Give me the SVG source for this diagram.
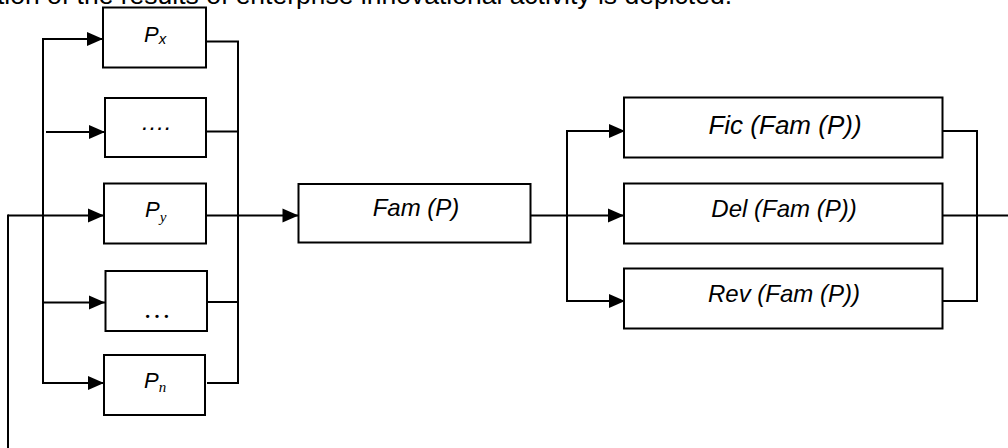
<svg xmlns="http://www.w3.org/2000/svg" width="1008" height="448" viewBox="0 0 1008 448">
  <defs>
    <marker id="arr" markerUnits="userSpaceOnUse" markerWidth="17" markerHeight="15" refX="16" refY="7.5" orient="auto" overflow="visible">
      <path d="M0,0.5 L16,7.5 L0,14.5 z" fill="#000"/>
    </marker>
    <style>
      .box { fill: #fff; stroke: #000; stroke-width: 2; }
      .ln { fill: none; stroke: #000; stroke-width: 2; }
      .lbl { font-family: "Liberation Sans", Arial, sans-serif; font-style: italic; font-size: 24px; fill: #000; text-anchor: middle; }
      .pv { font-family: "Liberation Sans", Arial, sans-serif; font-style: italic; font-size: 22px; fill: #000; }
      .subs { font-family: "Liberation Sans", Arial, sans-serif; font-style: italic; font-size: 15px; }
      .subt { font-family: "Liberation Serif", "Times New Roman", serif; font-style: italic; font-size: 15px; }
      .top { font-family: "Liberation Sans", Arial, sans-serif; font-size: 26.5px; fill: #000; }
    </style>
  </defs>

  <text class="top" x="-3" y="4">tion of the results of enterprise innovational activity is depicted.</text>

  <g id="connectors">
    <!-- left input bus -->
    <line class="ln" x1="43" y1="38" x2="43" y2="384"/>
    <line class="ln" x1="42" y1="39" x2="103" y2="39" marker-end="url(#arr)"/>
    <line class="ln" x1="46" y1="132" x2="105" y2="132" marker-end="url(#arr)"/>
    <line class="ln" x1="8" y1="215.5" x2="104" y2="215.5" marker-end="url(#arr)"/>
    <line class="ln" x1="8" y1="214.5" x2="8" y2="448"/>
    <line class="ln" x1="44" y1="302.5" x2="105" y2="302.5" marker-end="url(#arr)"/>
    <line class="ln" x1="42" y1="383" x2="104" y2="383" marker-end="url(#arr)"/>
    <!-- right collecting bus -->
    <polyline class="ln" points="206,41.5 238,41.5 238,383 207,383"/>
    <line class="ln" x1="206" y1="131.5" x2="238" y2="131.5"/>
    <line class="ln" x1="207" y1="302" x2="238" y2="302"/>
    <line class="ln" x1="206" y1="215.5" x2="298.5" y2="215.5" marker-end="url(#arr)"/>
    <!-- Fam output -->
    <line class="ln" x1="531" y1="215.5" x2="624" y2="215.5" marker-end="url(#arr)"/>
    <line class="ln" x1="567" y1="130" x2="567" y2="302"/>
    <line class="ln" x1="566" y1="131" x2="625" y2="131" marker-end="url(#arr)"/>
    <line class="ln" x1="566" y1="301" x2="625" y2="301" marker-end="url(#arr)"/>
    <!-- right output bus -->
    <polyline class="ln" points="943,131 977,131 977,301 943,301"/>
    <line class="ln" x1="943" y1="215.5" x2="1008" y2="215.5"/>
  </g>

  <g id="px">
    <rect class="box" x="103" y="7.5" width="103" height="60"/>
    <text class="pv" x="144" y="42">P<tspan class="subs" dy="1.5">x</tspan></text>
  </g>
  <g id="dots4">
    <rect class="box" x="105" y="98" width="101" height="59"/>
    <text class="lbl" x="156" y="130">….</text>
  </g>
  <g id="py">
    <rect class="box" x="104" y="183.5" width="102" height="60"/>
    <text class="pv" x="145" y="216.5">P<tspan class="subt" dy="5.5">y</tspan></text>
  </g>
  <g id="dots3">
    <rect class="box" x="105.5" y="271" width="101.5" height="60"/>
    <text x="157" y="318" style="font-family:'Liberation Serif','Times New Roman',serif;font-size:28px;text-anchor:middle">…</text>
  </g>
  <g id="pn">
    <rect class="box" x="104" y="355" width="101" height="60"/>
    <text class="pv" x="144" y="388">P<tspan class="subt" dy="4">n</tspan></text>
  </g>
  <g id="fam">
    <rect class="box" x="298.5" y="184" width="232" height="58.5"/>
    <text class="lbl" x="416" y="216">Fam (P)</text>
  </g>
  <g id="fic">
    <rect class="box" x="624" y="97.5" width="318.5" height="60"/>
    <text class="lbl" x="785" y="134" style="font-size:26px">Fic (Fam (P))</text>
  </g>
  <g id="del">
    <rect class="box" x="624" y="183.5" width="318.5" height="60"/>
    <text class="lbl" x="784" y="217">Del (Fam (P))</text>
  </g>
  <g id="rev">
    <rect class="box" x="624" y="268.5" width="318.5" height="60"/>
    <text class="lbl" x="784" y="302">Rev (Fam (P))</text>
  </g>
</svg>
